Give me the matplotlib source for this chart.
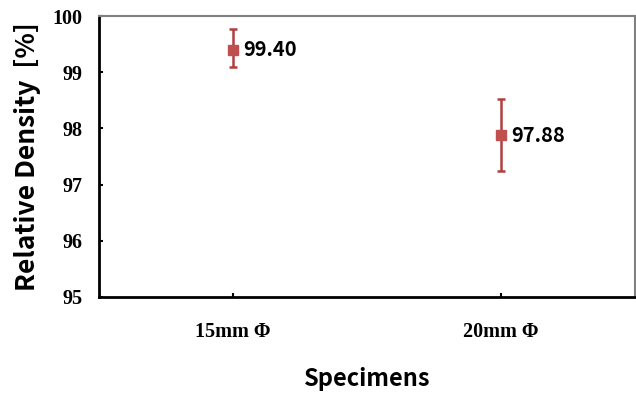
import matplotlib.pyplot as plt

specimens = ['15mm Φ', '20mm Φ']
density = [99.40, 97.88]
err_low = [0.31, 0.64]
err_high = [0.37, 0.64]
yticks = [95, 96, 97, 98, 99, 100]

fig = plt.figure(figsize=(6.36, 3.94), dpi=100)
ax = fig.add_axes([99 / 636, 1 - 297 / 394, 536 / 636, 281 / 394])

x = [1, 2]
ax.errorbar(x, density, yerr=[err_low, err_high], fmt='s', color='#C0504D',
            ecolor='#B04040', markersize=7, capsize=3, elinewidth=1.8, capthick=1.8)
for xi, v in zip(x, density):
    ax.text(xi + 0.04, v, f'{v:.2f}', va='center', ha='left', fontsize=14.5,
            fontweight='bold', family=['Noto Sans CJK KR', 'DejaVu Sans'])

ax.set_xlim(0.5, 2.5)
ax.set_ylim(95, 100)
ax.set_xticks(x)
ax.set_xticklabels(specimens, family='Liberation Serif', fontweight='bold', fontsize=14.5)
ax.set_yticks(yticks)
ax.set_yticklabels([str(t) for t in yticks], family='Liberation Serif', fontweight='bold', fontsize=14.5)
ax.tick_params(direction='in', length=3, width=1.5)
ax.tick_params(axis='x', pad=18)
ax.tick_params(axis='y', pad=12)

for s in ['left', 'bottom']:
    ax.spines[s].set_linewidth(2)
    ax.spines[s].set_color('black')
for s in ['top', 'right']:
    ax.spines[s].set_linewidth(1.5)
    ax.spines[s].set_color('#808080')

ax.set_ylabel('Relative Density  [%]', fontsize=19, fontweight='bold',
              family=['Noto Sans CJK KR', 'DejaVu Sans'], labelpad=8)
ax.set_xlabel('Specimens', fontsize=17, fontweight='bold',
              family=['Noto Sans CJK KR', 'DejaVu Sans'], labelpad=18)

fig.savefig('out.png', dpi=100)
